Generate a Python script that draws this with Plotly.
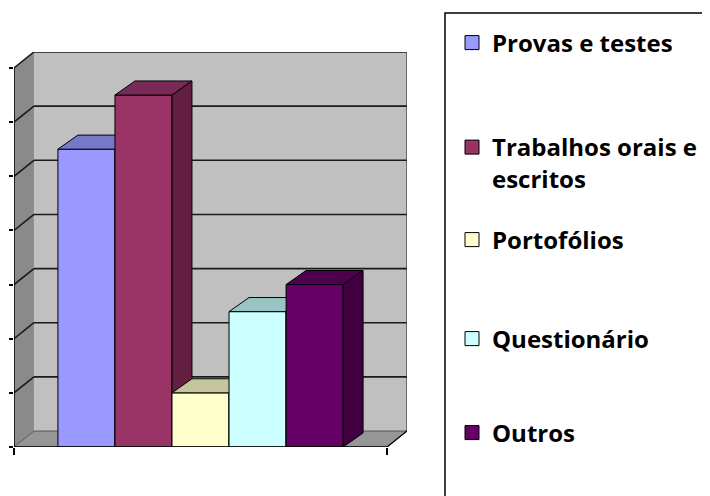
import plotly.graph_objects as go

# ---------------- data ----------------
categories = ["Provas e testes", "Trabalhos orais e<br>escritos", "Portofólios", "Questionário", "Outros"]
values = [5.5, 6.5, 1.0, 2.5, 3.0]
front_colors = ["#9999FF", "#993366", "#FFFFCC", "#CCFFFF", "#660066"]
top_colors = ["#7878C8", "#7A2A57", "#C4C49E", "#99C4C4", "#4D004D"]
side_colors = ["#6A6AB0", "#631F40", "#A8A888", "#88AAAA", "#400040"]
tick_values = [0, 1, 2, 3, 4, 5, 6, 7]
legend_centers_px = [43, 163, 240, 339, 433]   # page pixels

# ---------------- geometry ----------------
OFF = 8                     # default page body margin
W, H = 710 - OFF, 496 - OFF  # figure size so that it fills the window
YMAX = 7
FLOOR_W = 6.54          # floor width in category units
DX = 0.35               # wall depth (x)
WDY = 0.295             # wall depth (y)
BDX = 0.35              # bar depth (x)
BDY = 0.26              # bar depth (y)
x_start = (FLOOR_W - len(values)) / 2


def px_x(p):
    return (p - OFF) / W


def px_y(p):
    return 1 - (p - OFF) / H


fig = go.Figure()

# bars (front, top, side faces), drawn left to right
for i, (cat, v) in enumerate(zip(categories, values)):
    l = x_start + i
    r = l + 1
    faces = [
        ([l, r, r, l, l], [0, 0, v, v, 0], front_colors[i]),
        ([l, r, r + BDX, l + BDX, l], [v, v, v + BDY, v + BDY, v], top_colors[i]),
        ([r, r + BDX, r + BDX, r, r], [0, BDY, v + BDY, v, 0], side_colors[i]),
    ]
    for xs, ys, col in faces:
        fig.add_trace(go.Scatter(
            x=xs, y=ys, mode="lines", fill="toself", fillcolor=col,
            line=dict(color="#000000", width=1), showlegend=False, hoverinfo="skip",
        ))

# legend entries (one legend per entry to match spacing)
for i, cat in enumerate(categories):
    key = "legend" if i == 0 else f"legend{i + 1}"
    fig.add_trace(go.Scatter(
        x=[None], y=[None], mode="markers", name=cat,
        marker=dict(symbol="square", size=14, color=front_colors[i],
                    line=dict(color="#000000", width=1)),
        legend=key,
    ))

legend_font = dict(family="Open Sans", size=24, color="#000000", weight="bold")
legend_layouts = {}
for i, c in enumerate(legend_centers_px):
    key = "legend" if i == 0 else f"legend{i + 1}"
    legend_layouts[key] = dict(
        x=px_x(452), xanchor="left", y=px_y(c), yanchor="middle",
        bgcolor="rgba(0,0,0,0)", borderwidth=0, font=legend_font,
        valign="top", itemclick=False, itemdoubleclick=False,
    )

# walls, floor and gridlines
shapes = []
shapes.append(dict(type="path", xref="x", yref="y", layer="below",
                   path=f"M0,0 L{DX},{WDY} L{DX},{YMAX + WDY} L0,{YMAX} Z",
                   fillcolor="#8A8A8A", line=dict(width=0)))
shapes.append(dict(type="rect", xref="x", yref="y", layer="below",
                   x0=DX, y0=WDY, x1=FLOOR_W + DX, y1=YMAX + WDY,
                   fillcolor="#C0C0C0", line=dict(width=0)))
shapes.append(dict(type="path", xref="x", yref="y", layer="below",
                   path=f"M0,0 L{FLOOR_W},0 L{FLOOR_W + DX},{WDY} L{DX},{WDY} Z",
                   fillcolor="#969696", line=dict(color="#555555", width=1)))
for k in tick_values[1:]:
    shapes.append(dict(type="line", xref="x", yref="y", layer="below",
                       x0=0, y0=k, x1=DX, y1=k + WDY,
                       line=dict(color="#1a1a1a", width=1.6)))
    shapes.append(dict(type="line", xref="x", yref="y", layer="below",
                       x0=DX, y0=k + WDY, x1=FLOOR_W + DX, y1=k + WDY,
                       line=dict(color="#1a1a1a", width=1.6)))
shapes.append(dict(type="line", xref="x", yref="y", layer="below",
                   x0=FLOOR_W + DX, y0=WDY, x1=FLOOR_W + DX, y1=YMAX + WDY,
                   line=dict(color="#333333", width=1.2)))
shapes.append(dict(type="line", xref="x", yref="y", layer="above",
                   x0=0, y0=0, x1=0, y1=YMAX, line=dict(color="#000000", width=1.5)))
shapes.append(dict(type="line", xref="x", yref="y", layer="above",
                   x0=0, y0=0, x1=FLOOR_W, y1=0, line=dict(color="#000000", width=1.5)))
shapes.append(dict(type="line", xref="x", yref="y", layer="below",
                   x0=FLOOR_W, y0=0, x1=FLOOR_W + DX, y1=WDY,
                   line=dict(color="#000000", width=1.2)))
# legend frame (extends beyond the page edge)
shapes.append(dict(type="rect", xref="paper", yref="paper",
                   x0=px_x(445), x1=1.05, y0=-0.05, y1=px_y(13),
                   line=dict(color="#000000", width=1.5), fillcolor="rgba(0,0,0,0)"))

fig.update_layout(
    width=W, height=H,
    margin=dict(l=0, r=0, t=0, b=0),
    paper_bgcolor="#FFFFFF", plot_bgcolor="rgba(0,0,0,0)",
    showlegend=True,
    shapes=shapes,
    xaxis=dict(domain=[px_x(14), px_x(407)], range=[0, FLOOR_W + DX],
               showgrid=False, zeroline=False, showline=False,
               ticks="outside", ticklen=7, tickwidth=1.5, tickcolor="#000000",
               tickvals=[0, FLOOR_W], showticklabels=False, fixedrange=True),
    yaxis=dict(domain=[px_y(447), px_y(52)], range=[0, YMAX + WDY],
               showgrid=False, zeroline=False, showline=False,
               ticks="outside", ticklen=4, tickwidth=1.5, tickcolor="#000000",
               tickvals=tick_values, showticklabels=False, fixedrange=True),
    hovermode=False,
    **legend_layouts,
)

fig.write_html("out.html")
